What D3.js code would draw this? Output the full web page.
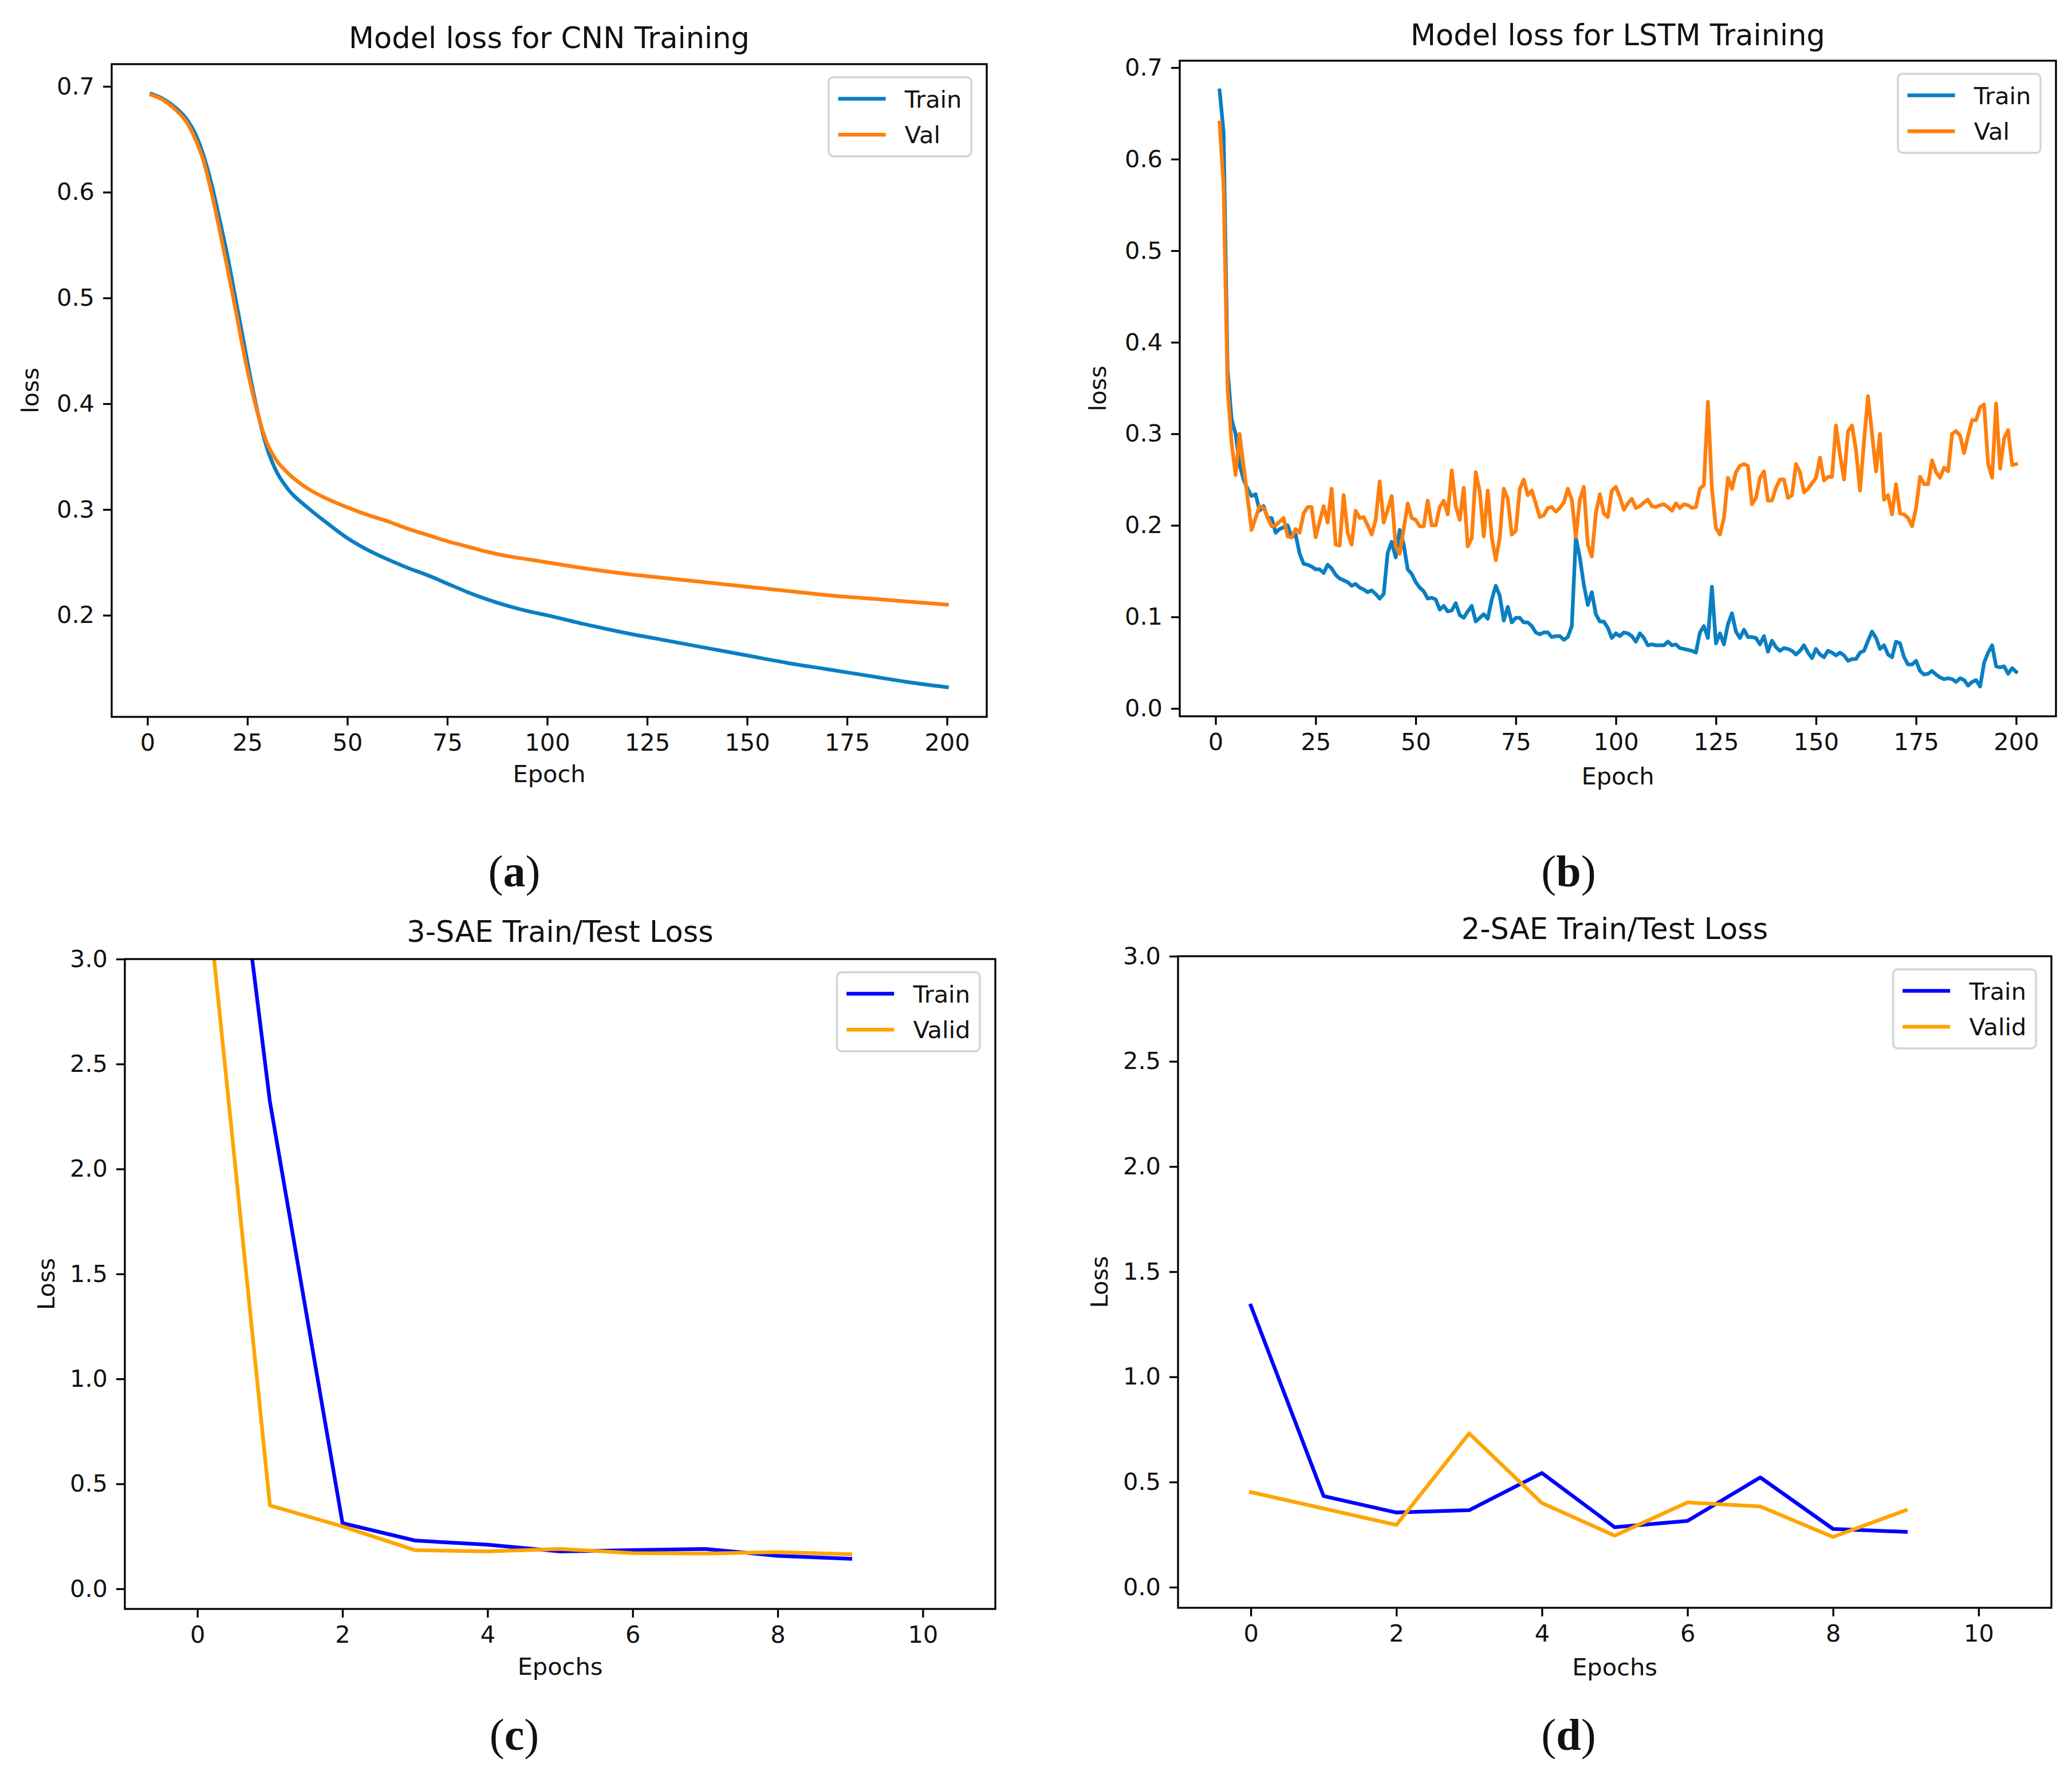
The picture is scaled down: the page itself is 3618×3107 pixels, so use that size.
<!DOCTYPE html>
<html><head><meta charset="utf-8">
<script src="https://cdn.jsdelivr.net/npm/d3@7/dist/d3.min.js"></script>
<style>
body{margin:0;background:#fff}
svg{display:block}
text{font-family:"DejaVu Sans",sans-serif;fill:#111}
</style>
</head><body>
<svg id="chart" width="3618" height="3107"></svg>
<script>
// ---------- DATA ----------
// (a) CNN
const cnnEpochs = [1,4,7,10,12,14,16,18,20,22,24,26,28,30,32,35,40,45,50,55,60,65,70,75,80,85,90,95,100,110,120,130,140,150,160,170,180,190,200];
const cnnTrain  = [0.693,0.688,0.680,0.668,0.655,0.635,0.608,0.575,0.540,0.500,0.460,0.420,0.385,0.357,0.338,0.320,0.302,0.287,0.273,0.262,0.253,0.245,0.238,0.230,0.222,0.215,0.209,0.204,0.200,0.191,0.183,0.176,0.169,0.162,0.155,0.149,0.143,0.137,0.132];
const cnnVal    = [0.692,0.687,0.678,0.665,0.650,0.630,0.600,0.565,0.528,0.490,0.450,0.415,0.385,0.362,0.348,0.335,0.320,0.310,0.302,0.295,0.289,0.282,0.276,0.270,0.265,0.260,0.256,0.253,0.250,0.244,0.239,0.235,0.231,0.227,0.223,0.219,0.216,0.213,0.210];
const cnnXTicks = [0,25,50,75,100,125,150,175,200];
const cnnYTicks = [0.2,0.3,0.4,0.5,0.6,0.7];

// (b) LSTM, epochs 1..200
const lstmTrain = [
0.675,0.63,0.37,0.316,0.30,0.266,0.25,0.24,0.232,0.234,
0.216,0.221,0.208,0.208,0.192,0.196,0.198,0.2,0.187,0.19,
0.169,0.158,0.157,0.155,0.152,0.152,0.148,0.157,0.153,0.146,
0.142,0.14,0.138,0.134,0.136,0.132,0.13,0.127,0.129,0.125,
0.12,0.125,0.17,0.182,0.165,0.195,0.179,0.152,0.147,0.138,
0.132,0.128,0.12,0.121,0.119,0.108,0.112,0.106,0.107,0.115,
0.102,0.099,0.106,0.112,0.095,0.099,0.103,0.098,0.119,0.134,
0.123,0.096,0.111,0.094,0.099,0.099,0.094,0.094,0.09,0.083,
0.081,0.083,0.083,0.078,0.079,0.079,0.075,0.078,0.09,0.187,
0.165,0.135,0.113,0.127,0.103,0.095,0.095,0.088,0.077,0.082,
0.079,0.083,0.082,0.079,0.073,0.082,0.077,0.069,0.07,0.069,
0.069,0.069,0.073,0.069,0.07,0.066,0.065,0.064,0.063,0.061,
0.083,0.09,0.077,0.133,0.071,0.082,0.07,0.092,0.104,0.084,
0.077,0.086,0.078,0.078,0.077,0.07,0.079,0.062,0.074,0.067,
0.063,0.066,0.065,0.063,0.059,0.063,0.069,0.061,0.055,0.065,
0.059,0.056,0.063,0.061,0.058,0.061,0.058,0.052,0.054,0.054,
0.061,0.063,0.074,0.084,0.077,0.065,0.069,0.059,0.056,0.073,
0.071,0.056,0.048,0.048,0.052,0.041,0.037,0.038,0.041,0.037,
0.034,0.032,0.033,0.032,0.029,0.033,0.031,0.025,0.029,0.031,
0.024,0.05,0.061,0.069,0.046,0.045,0.046,0.038,0.044,0.04];
const lstmVal = [
0.64,0.57,0.35,0.29,0.255,0.30,0.265,0.23,0.195,0.208,
0.221,0.219,0.209,0.199,0.2,0.204,0.208,0.188,0.187,0.196,
0.192,0.213,0.22,0.22,0.187,0.204,0.221,0.203,0.24,0.179,
0.178,0.233,0.192,0.179,0.216,0.208,0.209,0.2,0.19,0.206,
0.248,0.203,0.217,0.232,0.177,0.169,0.196,0.224,0.208,0.206,
0.199,0.199,0.227,0.20,0.20,0.22,0.227,0.212,0.26,0.221,
0.206,0.241,0.177,0.186,0.258,0.237,0.188,0.238,0.187,0.162,
0.187,0.24,0.229,0.19,0.194,0.24,0.25,0.233,0.238,0.224,
0.209,0.211,0.219,0.22,0.215,0.219,0.225,0.24,0.228,0.187,
0.228,0.242,0.179,0.166,0.213,0.234,0.213,0.209,0.238,0.242,
0.231,0.217,0.224,0.229,0.219,0.221,0.225,0.228,0.221,0.22,
0.222,0.223,0.22,0.216,0.224,0.219,0.223,0.222,0.219,0.22,
0.24,0.244,0.335,0.24,0.197,0.19,0.208,0.252,0.24,0.258,
0.265,0.267,0.265,0.223,0.23,0.252,0.259,0.227,0.227,0.241,
0.25,0.25,0.23,0.233,0.267,0.258,0.236,0.24,0.246,0.252,
0.274,0.249,0.253,0.253,0.309,0.277,0.25,0.303,0.309,0.282,
0.238,0.292,0.341,0.3,0.259,0.3,0.228,0.233,0.212,0.245,
0.213,0.212,0.208,0.199,0.219,0.253,0.245,0.245,0.271,0.258,
0.252,0.263,0.259,0.3,0.303,0.298,0.279,0.298,0.315,0.315,
0.329,0.332,0.267,0.252,0.333,0.262,0.295,0.304,0.266,0.267];
const lstmXTicks = [0,25,50,75,100,125,150,175,200];
const lstmYTicks = [0.0,0.1,0.2,0.3,0.4,0.5,0.6,0.7];

// (c) 3-SAE, epochs 0..9
const saeEpochs = [0,1,2,3,4,5,6,7,8,9];
const sae3Train = [5.1,2.32,0.313,0.23,0.21,0.178,0.184,0.19,0.157,0.143];
const sae3Valid = [3.78,0.397,0.297,0.184,0.178,0.19,0.17,0.168,0.175,0.165];
// (d) 2-SAE
const sae2Train = [1.339,0.433,0.355,0.366,0.543,0.285,0.315,0.522,0.277,0.263];
const sae2Valid = [0.452,0.374,0.296,0.731,0.40,0.245,0.403,0.384,0.239,0.366];
const saeXTicks = [0,2,4,6,8,10];
const saeYTicks = [0.0,0.5,1.0,1.5,2.0,2.5,3.0];

// ---------- DRAWING ----------
const svg = d3.select('#chart');
const FS = 41.5, TFS = 51, LW = 6.5, SW = 3.3;
const pad5 = (lo, hi) => { const r = hi - lo; return [lo - 0.05*r, hi + 0.05*r]; };

let clipId = 0;
function panel(c) {
  const [l,t,r,b] = c.box;
  const x = d3.scaleLinear().domain(c.xDomain).range([l, r]);
  const y = d3.scaleLinear().domain(c.yDomain).range([b, t]);
  const g = svg.append('g');
  const id = 'clip' + (clipId++);
  g.append('clipPath').attr('id', id).append('rect')
    .attr('x', l).attr('y', t).attr('width', r - l).attr('height', b - t);
  const lg = g.append('g').attr('clip-path', `url(#${id})`);
  c.series.forEach(s => {
    const pts = s.x.map((xv, i) => [xv, s.y[i]]);
    const line = d3.line().x(d => x(d[0])).y(d => y(d[1])).curve(c.curve || d3.curveLinear);
    lg.append('path').attr('d', line(pts)).attr('fill', 'none')
      .attr('stroke', s.color).attr('stroke-width', LW)
      .attr('stroke-linejoin', 'round').attr('stroke-linecap', 'square');
  });
  // axes
  const ax = g.append('g').attr('transform', `translate(0,${b})`)
    .call(d3.axisBottom(x).tickValues(c.xTicks).tickSize(15).tickPadding(15).tickFormat(c.xFmt));
  const ay = g.append('g').attr('transform', `translate(${l},0)`)
    .call(d3.axisLeft(y).tickValues(c.yTicks).tickSize(15).tickPadding(15).tickFormat(c.yFmt));
  [ax, ay].forEach(a => {
    a.select('.domain').remove();
    a.selectAll('line').attr('stroke', '#000').attr('stroke-width', SW);
    a.selectAll('text').attr('font-size', FS).attr('font-family', '"DejaVu Sans"').attr('fill', '#111');
  });
  g.append('rect').attr('x', l).attr('y', t).attr('width', r - l).attr('height', b - t)
    .attr('fill', 'none').attr('stroke', '#000').attr('stroke-width', SW);
  // title and labels
  g.append('text').attr('x', (l + r) / 2).attr('y', c.titleY).attr('text-anchor', 'middle')
    .attr('font-size', TFS).text(c.title);
  g.append('text').attr('x', (l + r) / 2).attr('y', c.xlabelY).attr('text-anchor', 'middle')
    .attr('font-size', FS).text(c.xlabel);
  g.append('text').attr('transform', `translate(${c.ylabelX + 15},${(t + b) / 2}) rotate(-90)`)
    .attr('text-anchor', 'middle').attr('font-size', FS).text(c.ylabel);
  // legend
  const bp = 0.4*FS, hl = 2*FS, htp = 0.8*FS, ls = 0.5*FS, rowH = 42;
  const lgG = g.append('g');
  const texts = c.series.map(s => lgG.append('text').attr('font-size', FS).text(s.label));
  const tw = d3.max(texts, tx => tx.node().getComputedTextLength());
  const w = bp + hl + htp + tw + bp;
  const h = 2*bp + c.series.length*rowH + (c.series.length - 1)*ls;
  const lx = r - 27 - w, ly = t + 23;
  lgG.insert('rect', 'text').attr('x', lx).attr('y', ly).attr('width', w).attr('height', h)
    .attr('rx', 8).attr('ry', 8).attr('fill', 'rgba(255,255,255,0.8)')
    .attr('stroke', 'rgba(204,204,204,0.85)').attr('stroke-width', 3.5);
  c.series.forEach((s, i) => {
    const cy = ly + bp + rowH/2 + i*(rowH + ls);
    lgG.append('line').attr('x1', lx + bp).attr('x2', lx + bp + hl).attr('y1', cy).attr('y2', cy)
      .attr('stroke', s.color).attr('stroke-width', LW);
    texts[i].attr('x', lx + bp + hl + htp).attr('y', cy + 15);
  });
}

const f1 = d3.format('.1f');
const fInt = d3.format('d');
const blue1 = '#0a7fc2', orange1 = '#ff7f0e';

panel({
  box: [195, 112, 1723, 1252],
  xDomain: pad5(d3.min(cnnEpochs), d3.max(cnnEpochs)),
  yDomain: pad5(d3.min(cnnTrain.concat(cnnVal)), d3.max(cnnTrain.concat(cnnVal))),
  xTicks: cnnXTicks, yTicks: cnnYTicks, xFmt: fInt, yFmt: f1,
  curve: d3.curveMonotoneX,
  series: [
    {x: cnnEpochs, y: cnnTrain, color: blue1, label: 'Train'},
    {x: cnnEpochs, y: cnnVal, color: orange1, label: 'Val'}
  ],
  title: 'Model loss for CNN Training', titleY: 84,
  xlabel: 'Epoch', xlabelY: 1366, ylabel: 'loss', ylabelX: 52
});

const lstmEpochs = lstmTrain.map((v, i) => i + 1);
panel({
  box: [2060, 106, 3590, 1251],
  xDomain: pad5(1, 200),
  yDomain: pad5(d3.min(lstmTrain.concat(lstmVal)), d3.max(lstmTrain.concat(lstmVal))),
  xTicks: lstmXTicks, yTicks: lstmYTicks, xFmt: fInt, yFmt: f1,
  series: [
    {x: lstmEpochs, y: lstmTrain, color: blue1, label: 'Train'},
    {x: lstmEpochs, y: lstmVal, color: orange1, label: 'Val'}
  ],
  title: 'Model loss for LSTM Training', titleY: 79,
  xlabel: 'Epoch', xlabelY: 1370, ylabel: 'loss', ylabelX: 1916
});

panel({
  box: [218, 1675, 1738, 2810],
  xDomain: [-1, 11], yDomain: [-0.096, 3],
  xTicks: saeXTicks, yTicks: saeYTicks, xFmt: fInt, yFmt: f1,
  series: [
    {x: saeEpochs, y: sae3Train, color: '#0000ff', label: 'Train'},
    {x: saeEpochs, y: sae3Valid, color: '#ffa500', label: 'Valid'}
  ],
  title: '3-SAE Train/Test Loss', titleY: 1645,
  xlabel: 'Epochs', xlabelY: 2925, ylabel: 'Loss', ylabelX: 80
});

panel({
  box: [2057, 1670, 3582, 2808],
  xDomain: [-1, 11], yDomain: [-0.098, 3],
  xTicks: saeXTicks, yTicks: saeYTicks, xFmt: fInt, yFmt: f1,
  series: [
    {x: saeEpochs, y: sae2Train, color: '#0000ff', label: 'Train'},
    {x: saeEpochs, y: sae2Valid, color: '#ffa500', label: 'Valid'}
  ],
  title: '2-SAE Train/Test Loss', titleY: 1640,
  xlabel: 'Epochs', xlabelY: 2926, ylabel: 'Loss', ylabelX: 1919
});

// sub-figure labels
const subLabels = [['a', 898, 1548], ['b', 2739, 1548], ['c', 898, 3056], ['d', 2739, 3056]];
subLabels.forEach(([ch, x, yb]) => {
  const tx = svg.append('text').attr('x', x).attr('y', yb).attr('text-anchor', 'middle')
    .attr('font-size', 78).style('font-family', '"Liberation Serif", serif');
  tx.append('tspan').text('(');
  tx.append('tspan').attr('font-weight', 'bold').text(ch);
  tx.append('tspan').text(')');
});
</script>
</body></html>
